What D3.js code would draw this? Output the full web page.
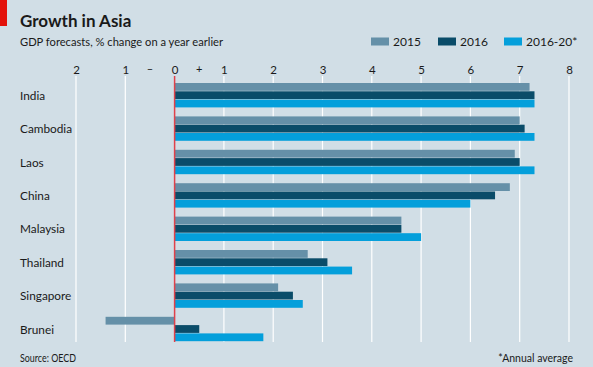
<!DOCTYPE html>
<html><head><meta charset="utf-8">
<script src="https://cdn.jsdelivr.net/npm/d3@7"></script>
<style>html,body{margin:0;padding:0;background:#d1dee6;}svg{display:block;}</style>
</head><body>
<svg id="chart" width="593" height="367"></svg>
<script>
const countries = ["India","Cambodia","Laos","China","Malaysia","Thailand","Singapore","Brunei"];
const seriesNames = ["2015","2016","2016-20*"];
const v2015 = [7.2, 7.0, 6.9, 6.8, 4.6, 2.7, 2.1, -1.4];
const v2016 = [7.3, 7.1, 7.0, 6.5, 4.6, 3.1, 2.4, 0.5];
const v2016_20 = [7.3, 7.3, 7.3, 6.0, 5.0, 3.6, 2.6, 1.8];
const tickValues = [-2,-1,0,1,2,3,4,5,6,7,8];
const tickLabels = ["2","1","0","1","2","3","4","5","6","7","8"];
const colors = ["#6590a8","#0a4c69","#049fdb"];
const font = "Lato, 'Open Sans', sans-serif";

const svg = d3.select("#chart");
svg.append("rect").attr("width",593).attr("height",367).attr("fill","#d1dee6");
svg.append("rect").attr("x",0).attr("y",0).attr("width",7).attr("height",26).attr("fill","#e3120b");

svg.append("text").attr("x",20).attr("y",27).text("Growth in Asia")
  .attr("font-family",font).attr("font-weight","bold").attr("font-size",17).attr("fill","#1a1a1a");
svg.append("text").attr("x",20).attr("y",46).text("GDP forecasts, % change on a year earlier")
  .attr("font-family",font).attr("font-size",11.6).attr("fill","#1a1a1a")
  .attr("textLength",203).attr("lengthAdjust","spacingAndGlyphs");

const x = d3.scaleLinear().domain([-2,8]).range([76,569]);
const y = d3.scaleBand().domain(countries).range([78.5,345.7]).paddingInner(0.27).paddingOuter(0.135);
const ys = d3.scaleBand().domain(seriesNames).range([0,y.bandwidth()]).paddingInner(0.06);

// gridlines
svg.append("g").selectAll("line").data(tickValues.filter(d=>d!==0)).join("line")
  .attr("x1",d=>x(d)).attr("x2",d=>x(d)).attr("y1",76).attr("y2",342)
  .attr("stroke","#ffffff").attr("stroke-width",1.2);

// tick labels via axis
const axis = d3.axisTop(x).tickValues(tickValues).tickFormat((d,i)=>tickLabels[i]).tickSize(0).tickPadding(0);
const ag = svg.append("g").attr("transform","translate(0,74)").call(axis);
ag.select(".domain").remove();
ag.selectAll("text").attr("font-family",font).attr("font-size",11.5).attr("fill","#1a1a1a");
svg.append("text").attr("x",x(-0.5)).attr("y",73).attr("text-anchor","middle").text("–")
  .attr("font-family",font).attr("font-size",11).attr("fill","#1a1a1a");
svg.append("text").attr("x",x(0.5)).attr("y",73).attr("text-anchor","middle").text("+")
  .attr("font-family",font).attr("font-size",11).attr("fill","#1a1a1a");

// bars
const data = countries.map((c,i)=>({c, vals:[v2015[i],v2016[i],v2016_20[i]]}));
const groups = svg.append("g").selectAll("g").data(data).join("g")
  .attr("transform",d=>`translate(0,${y(d.c)})`);
groups.selectAll("rect").data(d=>d.vals.map((v,j)=>({v,s:seriesNames[j],j}))).join("rect")
  .attr("x",d=>x(Math.min(0,d.v))).attr("width",d=>Math.abs(x(d.v)-x(0)))
  .attr("y",d=>ys(d.s)).attr("height",ys.bandwidth()).attr("fill",d=>colors[d.j]);

// zero line
svg.append("line").attr("x1",x(0)).attr("x2",x(0)).attr("y1",76).attr("y2",342)
  .attr("stroke","#e0414a").attr("stroke-width",1.5);

// category labels
svg.append("g").selectAll("text").data(countries).join("text")
  .attr("x",20).attr("y",d=>y(d)+y.bandwidth()/2+4.5).text(d=>d)
  .attr("font-family",font).attr("font-size",11.8).attr("fill","#1a1a1a");

// legend
const legX = [371,438,504];
seriesNames.forEach((s,i)=>{
  svg.append("rect").attr("x",legX[i]).attr("y",37.5).attr("width",18).attr("height",8).attr("fill",colors[i]);
  svg.append("text").attr("x",legX[i]+22).attr("y",46).text(s)
    .attr("font-family",font).attr("font-size",12).attr("fill","#1a1a1a");
});

svg.append("text").attr("x",20).attr("y",362).text("Source: OECD")
  .attr("font-family",font).attr("font-size",10.5).attr("fill","#1a1a1a")
  .attr("textLength",56).attr("lengthAdjust","spacingAndGlyphs");
svg.append("text").attr("x",573).attr("y",362).attr("text-anchor","end").text("*Annual average")
  .attr("font-family",font).attr("font-size",10.5).attr("fill","#1a1a1a");
</script>
</body></html>
